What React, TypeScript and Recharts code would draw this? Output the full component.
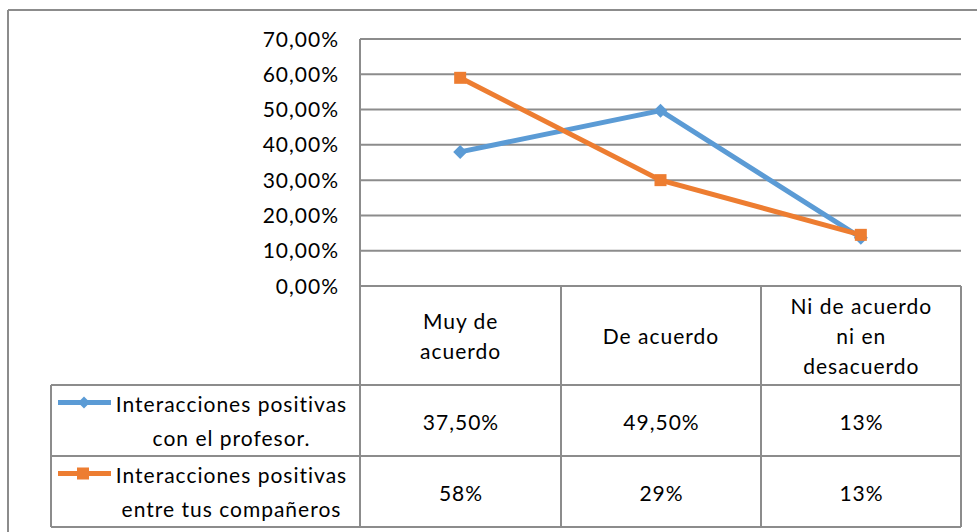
import React from 'react';
import { LineChart, Line, XAxis, YAxis, CartesianGrid } from 'recharts';

const categories = ['Muy de acuerdo', 'De acuerdo', 'Ni de acuerdo ni en desacuerdo'];
const categoryLines = [['Muy de', 'acuerdo'], ['De acuerdo'], ['Ni de acuerdo', 'ni en', 'desacuerdo']];
const seriesNames = ['Interacciones positivas con el profesor.', 'Interacciones positivas entre tus compañeros'];
const seriesNameLines = [['Interacciones positivas', 'con el profesor.'], ['Interacciones positivas', 'entre tus compañeros']];
const profesorValues = [0.38, 0.497, 0.137];
const companerosValues = [0.59, 0.30, 0.145];
const profesorLabels = ['37,50%', '49,50%', '13%'];
const companerosLabels = ['58%', '29%', '13%'];
const yTicks = [0, 0.1, 0.2, 0.3, 0.4, 0.5, 0.6, 0.7];

const BLUE = '#5B9BD5';
const ORANGE = '#ED7D31';
const GRID = '#8c8c8c';
const FONT = 'Lato, "Open Sans", sans-serif';
const FS = 21;
const LS = 1.0;

const data = categories.map((c, i) => ({
  name: c,
  prof: profesorValues[i],
  comp: companerosValues[i],
}));

const fmtPct = (v: number) => (v * 100).toFixed(2).replace('.', ',') + '%';

const Diamond = (props: any) => {
  const { cx, cy } = props;
  if (cx == null || cy == null) return null;
  const r = 7;
  return <path d={`M${cx},${cy - r} L${cx + r},${cy} L${cx},${cy + r} L${cx - r},${cy} Z`} fill={BLUE} />;
};

const Square = (props: any) => {
  const { cx, cy } = props;
  if (cx == null || cy == null) return null;
  const s = 12;
  return <rect x={cx - s / 2} y={cy - s / 2} width={s} height={s} fill={ORANGE} />;
};

const YTick = (props: any) => {
  const { x, y, payload } = props;
  return (
    <text x={x + LS} y={y} dy="0.36em" textAnchor="end" fontFamily={FONT} fontSize={FS} letterSpacing={LS} fill="#000">
      {fmtPct(payload.value)}
    </text>
  );
};

const CategoryTick = (props: any) => {
  const { x, y, index } = props;
  const lines = categoryLines[index] || [];
  const center = y + 50;
  const lh = 30;
  const start = center - ((lines.length - 1) * lh) / 2;
  return (
    <g>
      {lines.map((l: string, i: number) => (
        <text key={i} x={x + LS / 2} y={start + i * lh} dy="0.36em" textAnchor="middle" fontFamily={FONT} fontSize={FS} letterSpacing={LS} fill="#000">
          {l}
        </text>
      ))}
    </g>
  );
};

const colX = [360, 561, 761, 961];
const rowY = [286, 385, 456, 527];
const tableLeft = 51;

export default function App() {
  const rows = [
    { color: BLUE, marker: 'diamond', names: seriesNameLines[0], labels: profesorLabels, title: seriesNames[0] },
    { color: ORANGE, marker: 'square', names: seriesNameLines[1], labels: companerosLabels, title: seriesNames[1] },
  ];
  return (
    <div style={{ position: 'absolute', left: 0, top: 0, width: 977, height: 532, background: '#fff', overflow: 'hidden' }}>
      <LineChart width={977} height={532} data={data} margin={{ top: 39, right: 16, left: 0, bottom: 0 }}>
        <CartesianGrid horizontal vertical={false} stroke={GRID} strokeWidth={2} />
        <XAxis
          dataKey="name"
          scale="band"
          height={246}
          axisLine={false}
          tickLine={false}
          tickSize={0}
          tickMargin={0}
          interval={0}
          tick={<CategoryTick />}
        />
        <YAxis
          width={360}
          domain={[0, 0.7]}
          ticks={yTicks}
          axisLine={{ stroke: GRID, strokeWidth: 2 }}
          tickLine={false}
          tickSize={0}
          tickMargin={22}
          tick={<YTick />}
          interval={0}
        />
        <Line dataKey="prof" stroke={BLUE} strokeWidth={5} dot={<Diamond />} isAnimationActive={false} />
        <Line dataKey="comp" stroke={ORANGE} strokeWidth={5} dot={<Square />} isAnimationActive={false} />
      </LineChart>
      <svg width={977} height={532} style={{ position: 'absolute', left: 0, top: 0, pointerEvents: 'none' }}>
        <line x1={8} y1={10} x2={977} y2={10} stroke={GRID} strokeWidth={2} />
        <line x1={8} y1={10} x2={8} y2={532} stroke={GRID} strokeWidth={2} />
        {colX.map((x, i) => (
          <line key={'v' + i} x1={x} y1={rowY[0]} x2={x} y2={rowY[3]} stroke={GRID} strokeWidth={2} />
        ))}
        <line x1={tableLeft} y1={rowY[1]} x2={tableLeft} y2={rowY[3]} stroke={GRID} strokeWidth={2} />
        {[1, 2, 3].map((r) => (
          <line key={'h' + r} x1={tableLeft} y1={rowY[r]} x2={colX[3]} y2={rowY[r]} stroke={GRID} strokeWidth={2} />
        ))}
        {rows.map((row, ri) => {
          const top = rowY[ri + 1];
          const bottom = rowY[ri + 2];
          const mid = (top + bottom) / 2;
          const firstY = mid - 16;
          const markerY = firstY - 2;
          return (
            <g key={'r' + ri}>
              <line x1={58} y1={markerY} x2={111} y2={markerY} stroke={row.color} strokeWidth={5} />
              {row.marker === 'diamond' ? (
                <path d={`M84,${markerY - 6} L90,${markerY} L84,${markerY + 6} L78,${markerY} Z`} fill={row.color} />
              ) : (
                <rect x={77} y={markerY - 6} width={12} height={12} fill={row.color} />
              )}
              {row.names.map((n, i) => (
                <text key={i} x={231 + LS / 2} y={firstY + i * 34} dy="0.36em" textAnchor="middle" fontFamily={FONT} fontSize={FS} letterSpacing={LS} fill="#000">
                  {n}
                </text>
              ))}
              {row.labels.map((l, ci) => (
                <text key={'c' + ci} x={(colX[ci] + colX[ci + 1]) / 2 + LS / 2} y={mid + 2} dy="0.36em" textAnchor="middle" fontFamily={FONT} fontSize={FS} letterSpacing={LS} fill="#000">
                  {l}
                </text>
              ))}
            </g>
          );
        })}
      </svg>
    </div>
  );
}
